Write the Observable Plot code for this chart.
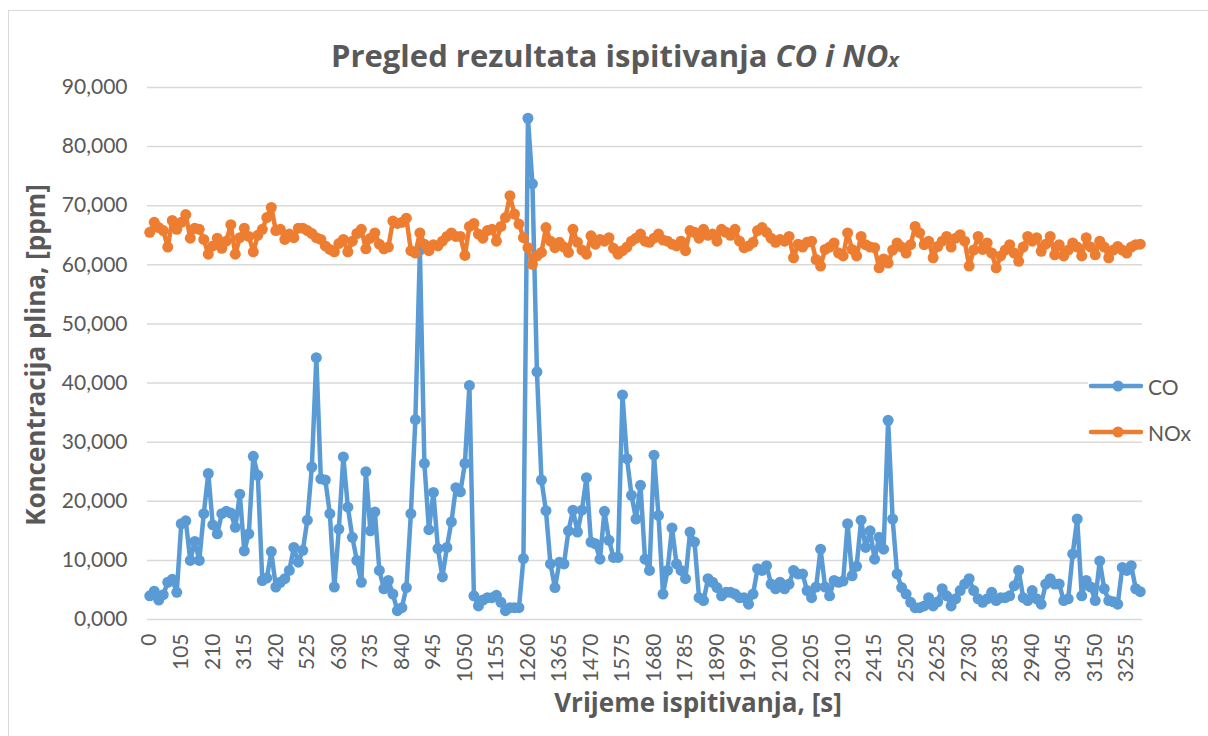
<!DOCTYPE html>
<html>
<head>
<meta charset="utf-8">
<script src="https://cdn.jsdelivr.net/npm/d3@7"></script>
<script src="https://cdn.jsdelivr.net/npm/@observablehq/plot@0.6"></script>
<style>
  html, body { margin: 0; padding: 0; background: #fff; overflow: hidden; }
  #wrap { position: relative; width: 1208px; height: 736px; font-family: Lato, "Open Sans", sans-serif; color: #595959; }
  #frame { position: absolute; left: 8px; top: 10px; width: 1300px; height: 800px; border: 1.5px solid #d9d9d9; box-sizing: border-box; }
  #chart { position: absolute; left: 0; top: 0; }
  #title { position: absolute; left: 0; width: 1230px; top: 35px; height: 40px; line-height: 40px; text-align: center; font-family: "Open Sans", sans-serif; font-weight: bold; font-size: 31px; }
  #title i sub { font-size: 20px; vertical-align: baseline; }
  #ylab { position: absolute; left: 35px; top: 355px; transform: translate(-50%, -50%) rotate(-90deg); white-space: nowrap; font-family: "Open Sans", sans-serif; font-weight: bold; font-size: 26px; }
  #xlab { position: absolute; left: 698px; top: 702px; transform: translate(-50%, -50%); white-space: nowrap; font-family: "Open Sans", sans-serif; font-weight: bold; font-size: 26px; }
  #legend { position: absolute; left: 1088px; top: 366px; width: 118px; height: 72px; background: #fff; }
  .item { position: absolute; left: 0; height: 30px; display: flex; align-items: center; font-size: 21px; }
  .item svg { margin-right: 4px; }
</style>
</head>
<body>
<div id="wrap">
  <div id="frame"></div>
  <div id="chart"></div>
  <div id="title">Pregled rezultata ispitivanja <i>CO i NO<sub>x</sub></i></div>
  <div id="ylab">Koncentracija plina, [ppm]</div>
  <div id="xlab">Vrijeme ispitivanja, [s]</div>
  <div id="legend"></div>
</div>
<script>
// Sample step 15 s, 221 samples (0 ... 3300 s)
const stepSeconds = 15;
const co = [
  4.0,4.8,3.3,4.2,6.3,6.8,4.6,16.2,16.7,10.0,
  13.2,10.0,17.9,24.7,16.0,14.5,17.9,18.3,18.0,15.6,
  21.2,11.6,14.5,27.6,24.4,6.6,7.0,11.5,5.5,6.3,
  6.9,8.3,12.2,9.7,11.7,16.8,25.8,44.3,23.8,23.6,
  17.9,5.5,15.3,27.5,19.0,13.9,10.0,6.3,25.0,15.0,
  18.2,8.3,5.2,6.6,4.3,1.5,2.0,5.4,17.9,33.8,
  62.5,26.4,15.2,21.5,12.0,7.2,12.2,16.5,22.3,21.6,
  26.4,39.6,4.0,2.3,3.3,3.7,3.7,4.1,2.9,1.5,
  2.0,2.0,2.0,10.3,84.8,73.7,41.9,23.6,18.4,9.4,
  5.4,9.7,9.4,15.0,18.5,14.8,18.5,24.0,13.1,12.8,
  10.2,18.3,13.4,10.5,10.5,38.0,27.2,21.0,17.0,22.7,
  10.2,8.3,27.8,17.6,4.3,8.3,15.5,9.4,8.3,6.9,
  14.8,13.1,3.7,3.2,6.9,6.3,5.4,4.0,4.6,4.6,
  4.3,3.7,3.7,2.6,4.3,8.6,8.3,9.1,6.0,5.2,
  6.3,5.2,6.0,8.3,7.7,7.7,4.9,3.7,5.5,11.9,
  5.5,4.0,6.6,6.3,6.5,16.2,7.4,9.0,16.8,12.2,
  15.0,10.2,13.9,11.9,33.7,17.0,7.7,5.4,4.3,2.9,
  2.0,2.0,2.3,3.7,2.3,3.0,5.2,4.0,2.3,3.5,
  4.9,6.0,6.9,4.9,3.5,2.9,3.5,4.6,3.2,3.7,
  3.7,4.0,5.7,8.3,3.7,3.2,4.9,3.5,2.6,6.0,
  6.9,6.0,6.0,3.2,3.5,11.1,17.0,4.0,6.6,5.5,
  3.2,9.9,5.2,3.2,3.0,2.6,8.8,8.3,9.1,5.2,
  4.7
];
const nox = [
  65.5,67.2,66.3,65.8,63.0,67.5,66.0,67.2,68.5,64.5,
  66.2,66.0,64.3,61.8,63.2,64.5,62.8,64.0,66.8,61.8,
  64.6,66.2,64.8,62.2,65.0,66.0,68.0,69.7,65.8,66.0,
  64.3,65.2,64.6,66.2,66.2,65.8,65.3,64.6,64.3,63.2,
  62.6,62.2,63.6,64.3,62.2,64.0,65.3,66.0,62.7,64.5,
  65.4,63.5,62.7,63.0,67.4,67.0,67.2,67.9,62.4,62.0,
  65.4,63.5,62.4,63.4,63.2,64.0,64.8,65.4,64.8,64.8,
  61.6,66.5,67.0,65.2,64.5,65.8,66.0,64.0,66.5,68.0,
  71.7,68.6,66.9,64.6,62.9,60.1,61.5,62.1,66.3,64.0,
  62.9,63.8,63.0,62.1,66.0,63.8,62.5,61.8,64.9,63.5,
  64.3,64.0,64.6,62.8,61.8,62.4,63.0,64.0,64.5,65.2,
  64.0,63.8,64.5,65.2,64.2,64.0,63.5,63.2,64.0,62.4,
  65.8,65.5,64.5,66.0,65.0,65.2,64.0,66.0,65.5,65.0,
  66.0,64.0,62.9,63.2,63.8,65.8,66.3,65.5,64.5,63.8,
  64.3,64.0,64.8,61.2,63.5,63.0,63.8,64.0,60.9,59.8,
  62.6,63.0,63.7,62.0,61.5,65.4,62.6,61.5,64.8,63.4,
  63.0,62.9,59.5,61.0,60.3,62.5,63.7,63.0,62.0,63.4,
  66.5,65.4,63.4,64.0,61.2,63.1,64.0,64.8,63.0,64.5,
  65.1,64.0,59.8,62.5,64.8,62.6,63.7,62.0,59.5,61.5,
  62.5,63.4,62.0,60.6,63.0,64.8,64.0,64.6,62.3,63.5,
  64.8,61.7,63.4,61.5,62.5,63.7,63.0,61.5,64.6,63.0,
  61.7,64.0,63.0,61.2,62.5,63.1,62.5,62.0,63.0,63.4,
  63.5
];
const xTicks = [0,105,210,315,420,525,630,735,840,945,1050,1155,1260,1365,1470,1575,1680,1785,1890,1995,2100,2205,2310,2415,2520,2625,2730,2835,2940,3045,3150,3255];
const yTicks = [0,10,20,30,40,50,60,70,80,90];
const seriesNames = ["CO", "NOx"];
const seriesColors = ["#5b9bd5", "#ed7d31"];

const times = co.map((_, i) => i * stepSeconds);
const data = times.map((t, i) => ({t, co: co[i], nox: nox[i]}));
const fmt = d => d3.format(".3f")(d).replace(".", ",");
const lastT = times[times.length - 1];

const chart = Plot.plot({
  width: 1208,
  height: 736,
  marginLeft: 147,
  marginRight: 66,
  marginTop: 87,
  marginBottom: 117,
  style: {fontFamily: "Lato, 'Open Sans', sans-serif", fontSize: "21px", color: "#595959", background: "transparent", overflow: "visible"},
  x: {domain: [-stepSeconds / 2, lastT + stepSeconds / 2]},
  y: {domain: [0, 90]},
  marks: [
    Plot.gridY(yTicks, {stroke: "#d9d9d9", strokeOpacity: 1, strokeWidth: 1.5}),
    Plot.axisY({ticks: yTicks, tickSize: 0, tickPadding: 20, tickFormat: fmt, label: null, fontSize: 21}),
    Plot.axisX({ticks: xTicks, tickSize: 0, tickPadding: 14, tickRotate: -90, tickFormat: d => String(d), label: null, fontSize: 21}),
    Plot.line(data, {x: "t", y: "co", stroke: seriesColors[0], strokeWidth: 4.5, strokeLinejoin: "round", strokeLinecap: "round"}),
    Plot.dot(data, {x: "t", y: "co", fill: seriesColors[0], r: 5.5}),
    Plot.line(data, {x: "t", y: "nox", stroke: seriesColors[1], strokeWidth: 4.5, strokeLinejoin: "round", strokeLinecap: "round"}),
    Plot.dot(data, {x: "t", y: "nox", fill: seriesColors[1], r: 5.5})
  ]
});
document.getElementById("chart").appendChild(chart);

const legend = document.getElementById("legend");
seriesNames.forEach((name, k) => {
  const item = document.createElement("div");
  item.className = "item";
  item.style.top = (k === 0 ? 5 : 51) + "px";
  item.innerHTML = `<svg width="56" height="14"><line x1="3" y1="7" x2="53" y2="7" stroke="${seriesColors[k]}" stroke-width="4.5" stroke-linecap="round"/><circle cx="30" cy="7" r="5.5" fill="${seriesColors[k]}"/></svg><span>${name}</span>`;
  legend.appendChild(item);
});
</script>
</body>
</html>
